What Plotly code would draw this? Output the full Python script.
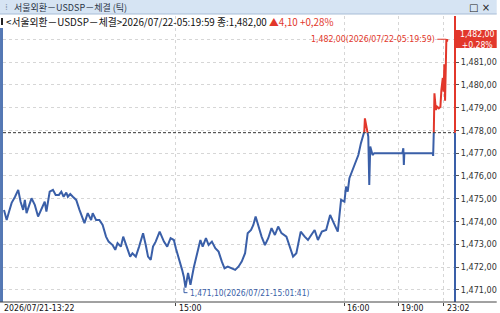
import plotly.graph_objects as go

# ---------------- data ----------------
# tick sequence number (x) and trade price (y)
seq = [0, 27, 50, 77, 110, 143, 167, 193, 210, 227, 277, 310, 343, 367, 410, 427, 460, 493, 520, 553,
       577, 600, 627, 643, 667, 693, 727, 760, 810, 843, 877, 893, 927, 960, 993, 1027, 1053, 1093, 1120, 1143,
       1177, 1200, 1227, 1270, 1293, 1327, 1360, 1400, 1427, 1450, 1477, 1500, 1527, 1567, 1610, 1643, 1677, 1710, 1730, 1760,
       1777, 1793, 1810, 1827, 1853, 1877, 1910, 1943, 1977, 2000, 2033, 2060, 2093, 2127, 2160, 2193, 2220, 2253, 2293, 2327,
       2360, 2393, 2427, 2453, 2487, 2510, 2533, 2560, 2593, 2627, 2660, 2693, 2727, 2760, 2793, 2843, 2877, 2910, 2943, 2987,
       3027, 3060, 3093, 3127, 3160, 3200, 3243, 3283, 3320, 3360, 3393, 3427, 3443, 3460, 3477, 3510, 3543, 3567, 3593, 3610,
       3627, 3633, 3653, 3667, 3677, 3687, 3710, 3727, 4010, 4020, 4025, 4030, 4315, 4320, 4327, 4333, 4347, 4360, 4377, 4393,
       4403, 4417, 4425, 4433, 4440, 4447, 4453, 4460, 4463]
price = [1474.51, 1474.07, 1474.42, 1474.82, 1475.08, 1475.39, 1474.87, 1474.51, 1474.95, 1474.37,
         1475.02, 1474.73, 1474.22, 1474.44, 1474.87, 1474.44, 1475.31, 1475.39, 1475.17, 1475.17,
         1475.31, 1475.09, 1475.27, 1475.09, 1475.21, 1475.09, 1474.95, 1474.51, 1473.93, 1474.37,
         1474.07, 1474.37, 1474.07, 1474.07, 1473.85, 1473.34, 1473.12, 1472.97, 1472.76, 1473.05,
         1472.90, 1473.34, 1472.97, 1472.46, 1472.61, 1472.46, 1472.90, 1473.49, 1472.97, 1472.46,
         1472.32, 1472.90, 1473.12, 1473.56, 1473.12, 1472.90, 1473.27, 1473.19, 1472.83, 1472.39,
         1472.23, 1471.88, 1471.58, 1471.10, 1471.75, 1471.22, 1471.97, 1472.61, 1473.19, 1472.90,
         1473.27, 1472.97, 1473.12, 1472.83, 1472.68, 1472.24, 1471.95, 1472.02, 1471.95, 1471.88,
         1472.02, 1472.24, 1472.61, 1473.49, 1473.63, 1473.85, 1474.22, 1473.78, 1473.34, 1472.97,
         1473.27, 1473.71, 1473.41, 1473.78, 1473.49, 1473.34, 1472.90, 1472.46, 1472.61, 1473.56,
         1473.34, 1473.19, 1473.41, 1473.63, 1473.19, 1473.56, 1473.63, 1474.29, 1473.93, 1473.56,
         1474.95, 1474.87, 1475.53, 1475.31, 1475.90, 1476.27, 1476.70, 1476.92, 1477.44, 1477.73,
         1477.95, 1478.53, 1477.95, 1477.73, 1475.61, 1477.29, 1476.92, 1477.00, 1477.00, 1477.22,
         1476.48, 1477.00, 1477.00, 1476.88, 1478.02, 1479.63, 1478.90, 1479.04, 1478.97, 1479.04,
         1479.78, 1480.30, 1479.70, 1480.90, 1479.30, 1481.50, 1482.00, 1481.90, 1482.00]

prev_close = 1477.90
max_price, max_seq = 1482.00, 4453
min_price, min_seq = 1471.10, 1827
max_text = "1,482,00(2026/07/22-05:19:59)"
min_text = "1,471,10(2026/07/21-15:01:41)"
last_text = "1,482,00<br>+0,28%"

y_ticks = [1471, 1472, 1473, 1474, 1475, 1476, 1477, 1478, 1479, 1480, 1481, 1482]
y_tick_text = ["1,471,00", "1,472,00", "1,473,00", "1,474,00", "1,475,00", "1,476,00",
               "1,477,00", "1,478,00", "1,479,00", "1,480,00", "1,481,00", ""]
time_tick_seq = [0, 1727, 3427, 3967, 4427]
time_tick_text = ["2026/07/21-13:22", "15:00", "16:00", "19:00", "23:02"]

title_text = "서울외환－USDSP－체결 (틱)"
info_text = "&lt;서울외환－USDSP－체결&gt;2026/07/22-05:19:59 종:1,482,00 "
info_change = "▲4,10 +0,28%"

# ---------------- layout constants ----------------
W, H = 500, 313
ML, MR, MT, MB = 3, 42, 16, 11
PW, PH = W - ML - MR, H - MT - MB
X_RANGE = [-10, 4540]
Y_RANGE = [1470.47, 1483.02]
BLUE = "#3a5fa8"
RED = "#e2372b"
NARROW = "Liberation Sans Narrow, DejaVu Sans Condensed, Arial Narrow, sans-serif"
KR = "Noto Sans CJK KR, Liberation Sans Narrow, sans-serif"

def pxx(px):
    return (px - ML) / PW

def pxy(py):
    return (H - MB - py) / PH

split = (prev_close - Y_RANGE[0]) / (Y_RANGE[1] - Y_RANGE[0])

fig = go.Figure()
fig.add_trace(go.Scatter(x=seq, y=price, mode="lines", xaxis="x2", yaxis="y2",
                         line=dict(color=BLUE, width=2), hoverinfo="skip", showlegend=False))
fig.add_trace(go.Scatter(x=seq, y=price, mode="lines", xaxis="x3", yaxis="y3",
                         line=dict(color=RED, width=2), hoverinfo="skip", showlegend=False))
fig.add_trace(go.Scatter(x=[seq[0]], y=[price[0]], mode="markers", marker=dict(opacity=0),
                         hoverinfo="skip", showlegend=False))

shapes = []
shapes.append(dict(type="rect", xref="paper", yref="paper", x0=pxx(0), x1=pxx(W), y0=pxy(14), y1=pxy(0),
                   fillcolor="#d6e4f3", line=dict(width=0), layer="above"))
shapes.append(dict(type="line", xref="paper", yref="paper", x0=pxx(0), x1=pxx(W), y0=pxy(14), y1=pxy(14),
                   line=dict(color="#a8bdd6", width=1), layer="above"))
shapes.append(dict(type="rect", xref="paper", yref="paper", x0=pxx(0), x1=pxx(3), y0=pxy(302), y1=pxy(28),
                   fillcolor="#5478b4", line=dict(width=0), layer="above"))
shapes.append(dict(type="rect", xref="paper", yref="paper", x0=pxx(1), x1=pxx(3), y0=pxy(25), y1=pxy(18),
                   fillcolor="#222", line=dict(width=0), layer="above"))
shapes.append(dict(type="line", xref="paper", yref="y", x0=0, x1=1, y0=prev_close, y1=prev_close,
                   line=dict(color="#333", width=1, dash="3px,2px"), layer="above"))
shapes.append(dict(type="line", xref="paper", yref="paper", x0=1, x1=1, y0=0, y1=split,
                   line=dict(color=BLUE, width=2), layer="above"))
shapes.append(dict(type="line", xref="paper", yref="paper", x0=1, x1=1, y0=split, y1=1,
                   line=dict(color=RED, width=2), layer="above"))
shapes.append(dict(type="line", xref="paper", yref="paper", x0=pxx(0), x1=pxx(W), y0=0, y1=0,
                   line=dict(color="#444", width=1), layer="above"))
shapes.append(dict(type="line", xref="x", yref="y", x0=max_seq - 90, x1=max_seq, y0=max_price, y1=max_price,
                   line=dict(color=RED, width=1), layer="above"))
shapes.append(dict(type="path", xref="x", yref="y",
                   path=f"M {min_seq - 15},{min_price} L {min_seq - 15},{min_price - 0.22} L {min_seq + 20},{min_price - 0.22}",
                   line=dict(color=BLUE, width=1), layer="above"))
shapes.append(dict(type="rect", xref="paper", yref="paper", x0=pxx(459), x1=pxx(W), y0=pxy(48), y1=pxy(30),
                   fillcolor=RED, line=dict(width=0), layer="above"))

annotations = []
annotations.append(dict(xref="paper", yref="paper", x=pxx(12), y=pxy(7), xanchor="left", yanchor="middle",
                        text=title_text, showarrow=False, font=dict(family=KR, size=9, color="#2b3546")))
annotations.append(dict(xref="paper", yref="paper", x=pxx(3), y=pxy(7), xanchor="left", yanchor="middle",
                        text="⁞", showarrow=False, font=dict(family="DejaVu Sans", size=9, color="#8a9ab0")))
annotations.append(dict(xref="paper", yref="paper", x=pxx(495), y=pxy(7), xanchor="right", yanchor="middle",
                        text="□ ×", showarrow=False, font=dict(family="DejaVu Sans", size=10, color="#222")))
annotations.append(dict(xref="paper", yref="paper", x=pxx(4), y=pxy(21.5), xanchor="left", yanchor="middle",
                        text=info_text + f"<span style='color:{RED}'>{info_change}</span>", showarrow=False,
                        font=dict(family=KR, size=9.8, color="#111")))
annotations.append(dict(xref="x", yref="y", x=max_seq - 93, y=max_price, xanchor="right", yanchor="middle",
                        text=max_text, showarrow=False, font=dict(family=NARROW, size=8.7, color=RED)))
annotations.append(dict(xref="x", yref="y", x=min_seq + 25, y=min_price - 0.22, xanchor="left", yanchor="middle",
                        text=min_text, showarrow=False, font=dict(family=NARROW, size=8.4, color=BLUE)))
annotations.append(dict(xref="paper", yref="paper", x=pxx(480), y=pxy(39), xanchor="center", yanchor="middle",
                        text=last_text, showarrow=False, font=dict(family=NARROW, size=8.6, color="white")))
for i, (s, t) in enumerate(zip(time_tick_seq, time_tick_text)):
    annotations.append(dict(xref="x", yref="paper", x=s, y=pxy(307.5), xanchor="left", yanchor="middle",
                            xshift=-2 if i == 0 else 1, text=t, showarrow=False,
                            font=dict(family=NARROW, size=8.7, color="#111")))

fig.update_layout(
    width=W, height=H, margin=dict(l=ML, r=MR, t=MT, b=MB),
    paper_bgcolor="white", plot_bgcolor="rgba(0,0,0,0)",
    xaxis=dict(domain=[0, 1], range=X_RANGE, tickvals=time_tick_seq[1:], showticklabels=False,
               ticks="outside", ticklen=3, tickcolor="#444", showgrid=True, gridcolor="#d6d6d6",
               griddash="dot", zeroline=False, showline=False, fixedrange=True),
    yaxis=dict(domain=[0, 1], range=Y_RANGE, side="right", tickvals=y_ticks, ticktext=y_tick_text,
               ticks="outside", ticklen=3, tickcolor="#555", showgrid=True, gridcolor="#d6d6d6",
               griddash="dot", zeroline=False, showline=False,
               tickfont=dict(family=NARROW, size=9, color="#333"), fixedrange=True),
    xaxis2=dict(domain=[0, 1], range=X_RANGE, anchor="y2", visible=False, fixedrange=True),
    yaxis2=dict(domain=[0, split], range=[Y_RANGE[0], prev_close], anchor="x2", visible=False, fixedrange=True),
    xaxis3=dict(domain=[0, 1], range=X_RANGE, anchor="y3", visible=False, fixedrange=True),
    yaxis3=dict(domain=[split, 1], range=[prev_close, Y_RANGE[1]], anchor="x3", visible=False, fixedrange=True),
    shapes=shapes, annotations=annotations, showlegend=False,
)

fig.write_html("out.html")
